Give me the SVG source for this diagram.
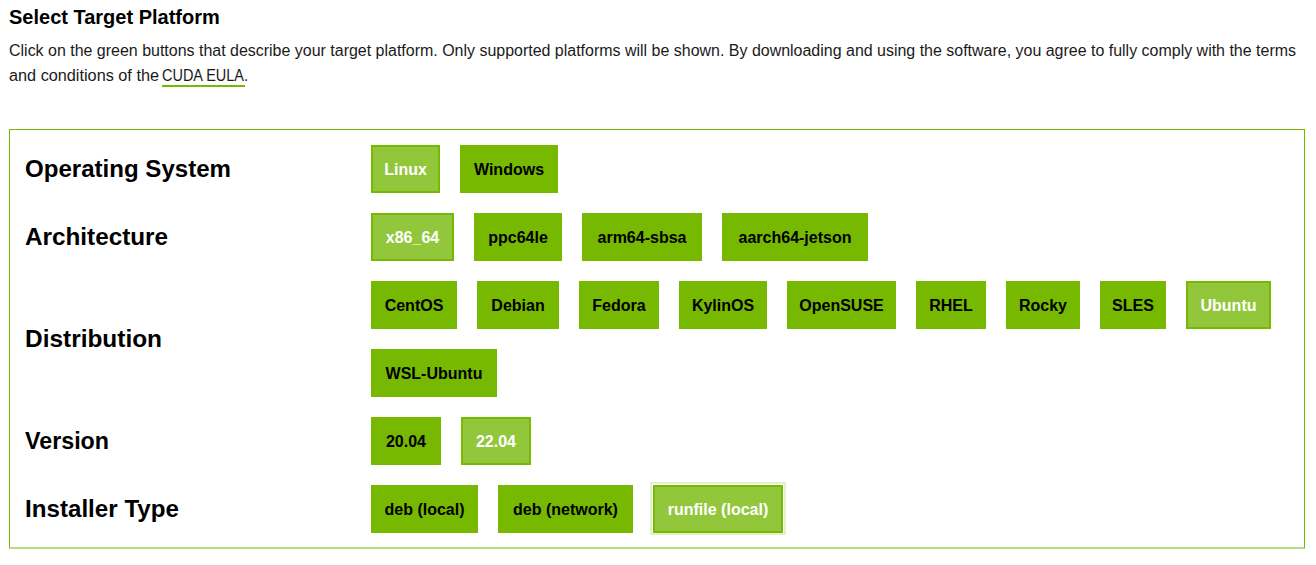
<svg xmlns="http://www.w3.org/2000/svg" width="1316" height="565" viewBox="0 0 1316 565">
<style>
.h{font-family:"Liberation Sans",Arial,sans-serif;font-weight:bold;font-size:20px;fill:#000}
.p{font-family:"Liberation Sans",Arial,sans-serif;font-size:16px;fill:#1a1a1a}
.lbl{font-family:"Liberation Sans",Arial,sans-serif;font-weight:bold;font-size:23px;fill:#000}
.bt{font-family:"Liberation Sans",Arial,sans-serif;font-weight:bold;font-size:16px;fill:#000;text-anchor:middle}
.bts{font-family:"Liberation Sans",Arial,sans-serif;font-weight:bold;font-size:16px;fill:#fff;text-anchor:middle}
.b{fill:#76b900}
.s{fill:#92c73c;stroke:#76b900;stroke-width:2}
</style>
<rect width="1316" height="565" fill="#fff"/>
<g id="header">
<text class="h" x="9" y="24">Select Target Platform</text>
<text class="p" x="9" y="56" textLength="1287" lengthAdjust="spacingAndGlyphs">Click on the green buttons that describe your target platform. Only supported platforms will be shown. By downloading and using the software, you agree to fully comply with the terms</text>
<text class="p" x="9" y="81" textLength="150" lengthAdjust="spacingAndGlyphs">and conditions of the</text>
<text class="p" x="162" y="81" textLength="86" lengthAdjust="spacingAndGlyphs">CUDA EULA.</text>
<rect x="162" y="85" width="83" height="2" fill="#76b900"/>
</g>
<g id="panel">
<rect x="9.5" y="129.5" width="1295" height="418.5" fill="none" stroke="#76b900" stroke-width="1"/>
</g>
<g id="labels">
<text class="lbl" x="25" y="177" textLength="206" lengthAdjust="spacingAndGlyphs">Operating System</text>
<text class="lbl" x="25" y="245" textLength="143" lengthAdjust="spacingAndGlyphs">Architecture</text>
<text class="lbl" x="25" y="347" textLength="137" lengthAdjust="spacingAndGlyphs">Distribution</text>
<text class="lbl" x="25" y="449" textLength="84" lengthAdjust="spacingAndGlyphs">Version</text>
<text class="lbl" x="25" y="517" textLength="154" lengthAdjust="spacingAndGlyphs">Installer Type</text>
</g>
<g id="os">
<g id="btn-linux"><rect class="s" x="372" y="146" width="67" height="46"/><text class="bts" x="405.5" y="175">Linux</text></g>
<g id="btn-windows"><rect class="b" x="460" y="145" width="98" height="48"/><text class="bt" x="509" y="175">Windows</text></g>
</g>
<g id="arch">
<g id="btn-x86"><rect class="s" x="372" y="214" width="81" height="46"/><text class="bts" x="412.5" y="243">x86_64</text></g>
<g id="btn-ppc"><rect class="b" x="474" y="213" width="88" height="48"/><text class="bt" x="518" y="243">ppc64le</text></g>
<g id="btn-sbsa"><rect class="b" x="582" y="213" width="120" height="48"/><text class="bt" x="642" y="243">arm64-sbsa</text></g>
<g id="btn-jetson"><rect class="b" x="722" y="213" width="146" height="48"/><text class="bt" x="795" y="243">aarch64-jetson</text></g>
</g>
<g id="distro">
<g id="btn-centos"><rect class="b" x="371" y="281" width="86" height="48"/><text class="bt" x="414" y="311">CentOS</text></g>
<g id="btn-debian"><rect class="b" x="477" y="281" width="82" height="48"/><text class="bt" x="518" y="311">Debian</text></g>
<g id="btn-fedora"><rect class="b" x="579" y="281" width="80" height="48"/><text class="bt" x="619" y="311">Fedora</text></g>
<g id="btn-kylin"><rect class="b" x="679" y="281" width="88" height="48"/><text class="bt" x="723" y="311">KylinOS</text></g>
<g id="btn-suse"><rect class="b" x="787" y="281" width="109" height="48"/><text class="bt" x="841.5" y="311">OpenSUSE</text></g>
<g id="btn-rhel"><rect class="b" x="916" y="281" width="70" height="48"/><text class="bt" x="951" y="311">RHEL</text></g>
<g id="btn-rocky"><rect class="b" x="1006" y="281" width="74" height="48"/><text class="bt" x="1043" y="311">Rocky</text></g>
<g id="btn-sles"><rect class="b" x="1100" y="281" width="66" height="48"/><text class="bt" x="1133" y="311">SLES</text></g>
<g id="btn-ubuntu"><rect class="s" x="1187" y="282" width="83" height="46"/><text class="bts" x="1228.5" y="311">Ubuntu</text></g>
<g id="btn-wsl"><rect class="b" x="371" y="349" width="126" height="48"/><text class="bt" x="434" y="379">WSL-Ubuntu</text></g>
</g>
<g id="version">
<g id="btn-2004"><rect class="b" x="371" y="417" width="70" height="48"/><text class="bt" x="406" y="447">20.04</text></g>
<g id="btn-2204"><rect class="s" x="462" y="418" width="68" height="46"/><text class="bts" x="496" y="447">22.04</text></g>
</g>
<g id="installer">
<g id="btn-deblocal"><rect class="b" x="371" y="485" width="107" height="48"/><text class="bt" x="424.5" y="515">deb (local)</text></g>
<g id="btn-debnet"><rect class="b" x="498" y="485" width="135" height="48"/><text class="bt" x="565.5" y="515">deb (network)</text></g>
<g id="btn-runfile"><rect x="651" y="483" width="134" height="51" fill="none" stroke="#e2f0cc" stroke-width="2"/><rect class="s" x="654" y="486" width="128" height="46"/><text class="bts" x="718" y="515">runfile (local)</text></g>
</g>
<g id="connectors"/>
</svg>
